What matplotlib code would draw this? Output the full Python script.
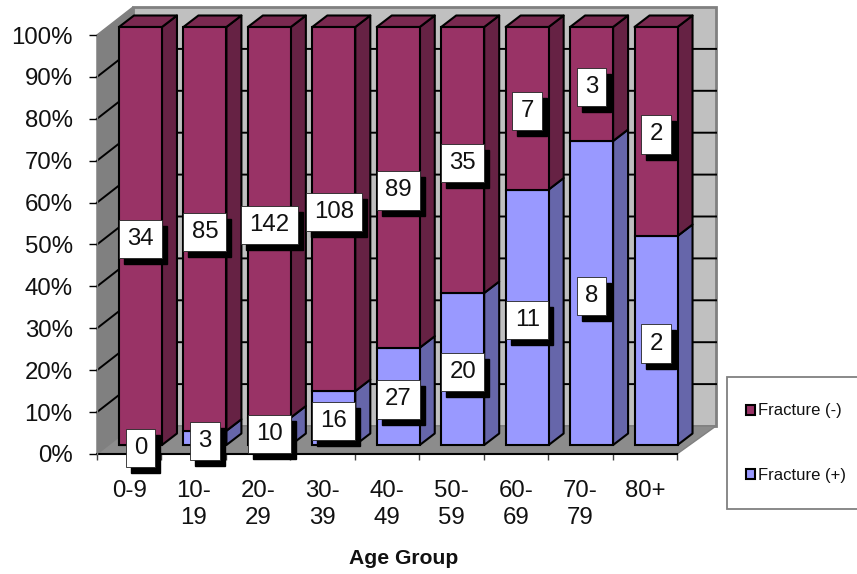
import matplotlib
matplotlib.use("Agg")
import matplotlib.pyplot as plt
from matplotlib.patches import Polygon, Patch, Rectangle
from matplotlib.transforms import offset_copy
import numpy as np

plt.rcParams['font.family'] = ['Liberation Sans', 'DejaVu Sans']

categories = ['0-9', '10-\n19', '20-\n29', '30-\n39', '40-\n49', '50-\n59', '60-\n69', '70-\n79', '80+']
fracture_pos = [0, 3, 10, 16, 27, 20, 11, 8, 2]
fracture_neg = [34, 85, 142, 108, 89, 35, 7, 3, 2]
y_ticks = [0, 10, 20, 30, 40, 50, 60, 70, 80, 90, 100]

W, H = 857, 574
fig = plt.figure(figsize=(W / 100, H / 100), dpi=100)
L, R, T, B = 97, 677, 35, 454
ax = fig.add_axes([L / W, 1 - B / H, (R - L) / W, (B - T) / H])
ax.set_xlim(0, 9)
ax.set_ylim(0, 100)
ax.patch.set_visible(False)
for s in ax.spines.values():
    s.set_visible(False)

px = 9 / (R - L)
py = 100 / (B - T)

# walls and floor
wall_l, wall_r = 36 * px, 9 + 39 * px
wall_d = 28 * py
ax.add_patch(Polygon([(wall_l, wall_d), (wall_r, wall_d), (wall_r, 100 + wall_d), (wall_l, 100 + wall_d)],
                     fc='#C0C0C0', ec='#808080', lw=2, clip_on=False, zorder=1))
ax.add_patch(Polygon([(0, 0), (wall_l, wall_d), (wall_l, 100 + wall_d), (0, 100)],
                     fc='#808080', ec='#808080', lw=1, clip_on=False, zorder=1))
ax.add_patch(Polygon([(0, 0), (9, 0), (wall_r, wall_d), (wall_l, wall_d)],
                     fc='#8C8C8C', ec='#808080', lw=1, clip_on=False, zorder=1))
for t in y_ticks[1:-1]:
    ax.plot([0, wall_l, wall_r], [t, t + wall_d, t + wall_d], color='black', lw=1.4, clip_on=False, zorder=2)
ax.plot([0, 9], [0, 0], color='black', lw=1.5, clip_on=False, zorder=3)
ax.plot([0, 0], [0, 100], color='#808080', lw=1, clip_on=False, zorder=3)

# bars
pos = np.array(fracture_pos, float)
neg = np.array(fracture_neg, float)
total = pos + neg
pct_pos = pos / total * 100
pct_neg = neg / total * 100
bw = 43 * px
shift = 11.25 * px
dx, dy = 15 * px, 11.5 * py
base = 9 * py
scale = 418 / 419
centers = np.arange(9) + 0.5 + shift

def side(x, y0, y1, color, z):
    r = x + bw / 2
    ax.add_patch(Polygon([(r, y0), (r + dx, y0 + dy), (r + dx, y1 + dy), (r, y1)], fc=color, ec='black',
                         lw=1.5, joinstyle='round', clip_on=False, zorder=z))

def top(x, y, color, z):
    l, r = x - bw / 2, x + bw / 2
    ax.add_patch(Polygon([(l, y), (r, y), (r + dx, y + dy), (l + dx, y + dy)], fc=color, ec='black',
                         lw=1.5, joinstyle='round', clip_on=False, zorder=z))

for i, x in enumerate(centers):
    z = 4
    y0 = base
    y1 = base + pct_pos[i] * scale
    y2 = base + 100 * scale
    if pct_pos[i] > 0:
        side(x, y0, y1, '#6666AA', z)
    side(x, y1, y2, '#662244', z)
    top(x, y2, '#7A2950', z)
    ax.bar(x, pct_pos[i] * scale, bw, bottom=y0, color='#9999FF', edgecolor='black', lw=1.5, zorder=z + 1, clip_on=False)
    ax.bar(x, pct_neg[i] * scale, bw, bottom=y1, color='#993366', edgecolor='black', lw=1.5, zorder=z + 1, clip_on=False)

# data labels with drop shadow
FS = 17.3
label_tr = offset_copy(ax.transData, fig=fig, x=0, y=-3, units='dots')
shadow_tr = offset_copy(ax.transData, fig=fig, x=5, y=-9, units='dots')
def label(x, y, s):
    ax.text(x, y, s, transform=shadow_tr, ha='center', va='center', fontsize=FS, color='black', zorder=8,
            clip_on=False, bbox=dict(boxstyle='square,pad=0.34', fc='black', ec='black', lw=1))
    ax.text(x, y, s, transform=label_tr, ha='center', va='center', fontsize=FS, color='#111111', zorder=9,
            clip_on=False, bbox=dict(boxstyle='square,pad=0.34', fc='white', ec='#222222', lw=0.6))

for i, x in enumerate(centers):
    label(x, base + pct_pos[i] / 2 * scale, str(fracture_pos[i]))
    label(x, base + (pct_pos[i] + pct_neg[i] / 2) * scale, str(fracture_neg[i]))

# axes ticks and labels
ax.set_yticks(y_ticks)
ax.set_yticklabels([f'{t}%' for t in y_ticks], fontsize=FS, color='#111111')
ax.tick_params(axis='y', length=5.5, width=1, pad=12)
ax.set_xticks(np.arange(10))
ax.set_xticklabels([])
ax.tick_params(axis='x', which='major', length=4.5, width=1, color='#404040')
ax.set_xticks(np.arange(9) + 0.5, minor=True)
ax.set_xticklabels(categories, minor=True, fontsize=FS, color='#111111', linespacing=1.25)
ax.tick_params(axis='x', which='minor', length=0, pad=19)

fig.text(404 / W, 1 - 559 / H, 'Age Group', ha='center', va='center', fontsize=15.2, fontweight='bold', color='#111111')

# legend: frame drawn separately so that it can run off the right edge
fig.add_artist(Rectangle((727 / W, 1 - 509 / H), 140 / W, 132 / H, transform=fig.transFigure,
                         fc='white', ec='#808080', lw=1.3, zorder=19))
handles = [Patch(fc='#993366', ec='black', lw=1.5, label='Fracture (-)'),
           Patch(fc='#9999FF', ec='black', lw=1.5, label='Fracture (+)')]
leg = fig.legend(handles=handles, loc='center left', bbox_to_anchor=(746 / W, 1 - 443 / H),
                 bbox_transform=fig.transFigure, borderaxespad=0, fontsize=12, frameon=False,
                 labelspacing=2.95, handlelength=0.55, handleheight=0.55,
                 handletextpad=0.2, borderpad=0, labelcolor='#111111')
leg.set_zorder(20)

fig.savefig('out.png', dpi=100)
